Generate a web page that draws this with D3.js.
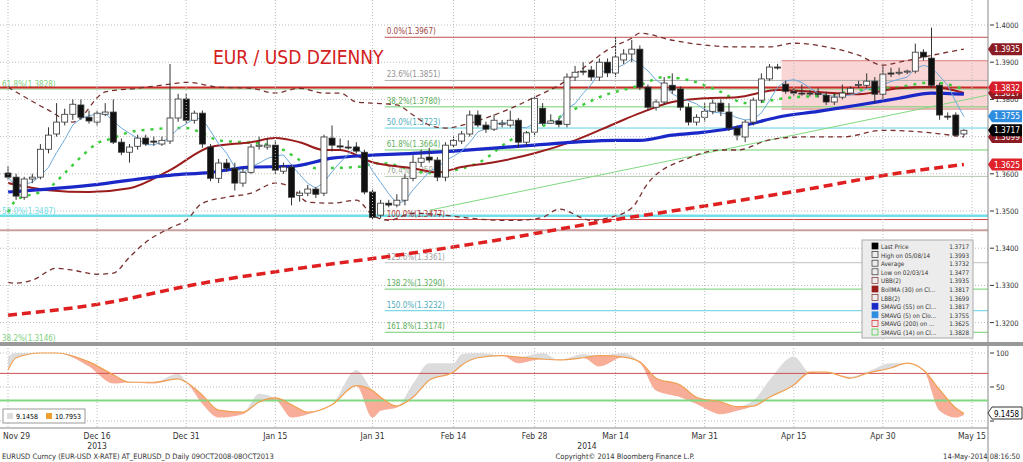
<!DOCTYPE html>
<html><head><meta charset="utf-8">
<script src="https://cdn.jsdelivr.net/npm/d3@7"></script>
<style>body{margin:0;background:#fff}svg{display:block;font-family:"DejaVu Sans Condensed","DejaVu Sans",sans-serif}</style>
</head><body><svg id="c" width="1023" height="462"></svg>
<script>
const opens=[1.3602,1.3591,1.3537,1.3586,1.3591,1.3666,1.3707,1.3739,1.3760,1.3785,
1.3752,1.3739,1.3760,1.3766,1.3685,1.3658,1.3674,1.3696,1.3688,1.3680,
1.3688,1.3750,1.3801,1.3744,1.3763,1.3672,1.3588,1.3629,1.3615,1.3575,
1.3604,1.3674,1.3672,1.3677,1.3607,1.3618,1.3542,1.3548,1.3559,1.3548,
1.3696,1.3675,1.3672,1.3672,1.3658,1.3551,1.3489,1.3521,1.3516,1.3529,
1.3588,1.3631,1.3645,1.3637,1.3591,1.3677,1.3688,1.3707,1.3758,1.3731,
1.3720,1.3733,1.3731,1.3744,1.3685,1.3712,1.3776,1.3736,1.3742,1.3733,
1.3860,1.3876,1.3879,1.3860,1.3900,1.3871,1.3906,1.3922,1.3935,1.3833,
1.3779,1.3793,1.3838,1.3828,1.3779,1.3739,1.3752,1.3768,1.3790,1.3766,
1.3723,1.3699,1.3739,1.3798,1.3855,1.3887,1.3841,1.3822,1.3817,1.3817,
1.3816,1.3811,1.3793,1.3806,1.3817,1.3838,1.3838,1.3849,1.3814,1.3871,
1.3871,1.3874,1.3876,1.3927,1.3911,1.3838,1.3755,1.3758,1.3707];
const closes=[1.3591,1.3540,1.3586,1.3591,1.3666,1.3704,1.3739,1.3760,1.3787,1.3752,
1.3742,1.3763,1.3766,1.3685,1.3658,1.3672,1.3696,1.3680,1.3685,1.3690,
1.3750,1.3801,1.3744,1.3763,1.3680,1.3588,1.3629,1.3615,1.3575,1.3604,
1.3672,1.3677,1.3677,1.3610,1.3618,1.3537,1.3548,1.3559,1.3545,1.3699,
1.3677,1.3672,1.3670,1.3661,1.3551,1.3483,1.3521,1.3516,1.3529,1.3588,
1.3631,1.3642,1.3637,1.3591,1.3677,1.3690,1.3707,1.3758,1.3731,1.3720,
1.3744,1.3736,1.3744,1.3685,1.3710,1.3803,1.3736,1.3742,1.3733,1.3860,
1.3873,1.3874,1.3860,1.3900,1.3871,1.3914,1.3922,1.3935,1.3833,1.3779,
1.3793,1.3844,1.3825,1.3779,1.3739,1.3752,1.3768,1.3790,1.3768,1.3723,
1.3704,1.3739,1.3798,1.3855,1.3887,1.3885,1.3822,1.3817,1.3815,1.3815,
1.3814,1.3793,1.3806,1.3817,1.3830,1.3840,1.3849,1.3814,1.3868,1.3868,
1.3873,1.3876,1.3927,1.3914,1.3838,1.3758,1.3753,1.3704,1.3717];
const highs=[1.3620,1.3600,1.3592,1.3600,1.3680,1.3725,1.3790,1.3775,1.3800,1.3800,
1.3770,1.3770,1.3790,1.3800,1.3695,1.3680,1.3705,1.3705,1.3700,1.3700,
1.3895,1.3815,1.3815,1.3770,1.3770,1.3680,1.3640,1.3640,1.3630,1.3615,
1.3680,1.3700,1.3695,1.3690,1.3630,1.3625,1.3555,1.3570,1.3565,1.3705,
1.3730,1.3695,1.3690,1.3685,1.3665,1.3560,1.3530,1.3530,1.3545,1.3600,
1.3650,1.3665,1.3670,1.3645,1.3685,1.3700,1.3715,1.3770,1.3770,1.3740,
1.3760,1.3745,1.3770,1.3750,1.3715,1.3810,1.3790,1.3760,1.3750,1.3870,
1.3890,1.3900,1.3890,1.3910,1.3910,1.3967,1.3935,1.3960,1.3945,1.3840,
1.3800,1.3860,1.3870,1.3835,1.3790,1.3760,1.3790,1.3800,1.3800,1.3790,
1.3730,1.3745,1.3805,1.3870,1.3895,1.3895,1.3850,1.3830,1.3840,1.3825,
1.3830,1.3820,1.3815,1.3840,1.3835,1.3850,1.3870,1.3860,1.3890,1.3885,
1.3885,1.3880,1.3950,1.3935,1.3993,1.3845,1.3765,1.3765,1.3720];
const lows=[1.3585,1.3530,1.3530,1.3575,1.3585,1.3655,1.3700,1.3730,1.3745,1.3745,
1.3735,1.3730,1.3755,1.3680,1.3650,1.3630,1.3665,1.3675,1.3675,1.3675,
1.3680,1.3740,1.3735,1.3735,1.3670,1.3580,1.3575,1.3605,1.3555,1.3565,
1.3600,1.3665,1.3665,1.3600,1.3600,1.3515,1.3525,1.3540,1.3535,1.3540,
1.3660,1.3665,1.3665,1.3655,1.3545,1.3477,1.3480,1.3510,1.3510,1.3515,
1.3580,1.3620,1.3630,1.3580,1.3580,1.3670,1.3680,1.3700,1.3725,1.3710,
1.3715,1.3725,1.3725,1.3670,1.3675,1.3700,1.3730,1.3735,1.3725,1.3725,
1.3850,1.3865,1.3850,1.3850,1.3860,1.3860,1.3895,1.3900,1.3825,1.3770,
1.3770,1.3785,1.3815,1.3770,1.3730,1.3730,1.3740,1.3760,1.3755,1.3715,
1.3690,1.3685,1.3730,1.3790,1.3850,1.3880,1.3815,1.3810,1.3810,1.3808,
1.3805,1.3785,1.3785,1.3800,1.3815,1.3830,1.3830,1.3790,1.3800,1.3860,
1.3865,1.3868,1.3870,1.3905,1.3830,1.3745,1.3745,1.3700,1.3700];

const sma55Idx=[0,10,20,25,30,35,40,45,50,55,60,65,70,75,78,82,86,90,92,95,100,105,110,114,118];
const sma55=[1.3551,1.3569,1.3596,1.3604,1.3618,1.3620,1.3642,1.3650,1.3655,1.3661,1.3669,1.3677,1.3685,1.3690,1.3690,1.3704,1.3712,1.3725,1.3736,1.3752,1.3768,1.3785,1.3803,1.3817,1.3814];
const bollIdx=[0,5,10,15,20,25,30,33,36,39,41,45,50,53,56,60,65,70,75,78,82,86,90,95,100,105,110,114,118];
const bollMA=[1.3575,1.3556,1.3551,1.3561,1.3610,1.3672,1.3685,1.3696,1.3685,1.3664,1.3664,1.3631,1.3615,1.3604,1.3618,1.3631,1.3655,1.3690,1.3736,1.3763,1.3793,1.3803,1.3806,1.3825,1.3820,1.3814,1.3830,1.3833,1.3817];
const upperIdx=[0,5,8,12,16,20,22,26,30,33,36,39,41,43,45,48,50,52,54,57,60,63,65,68,71,74,77,78,82,86,90,94,97,101,105,108,110,113,116,118];
const upperBB=[1.3833,1.3771,1.3739,1.3820,1.3830,1.3841,1.3846,1.3833,1.3830,1.3817,1.3830,1.3817,1.3817,1.3793,1.3790,1.3785,1.3758,1.3731,1.3723,1.3736,1.3758,1.3785,1.3806,1.3838,1.3884,1.3933,1.3965,1.3978,1.3959,1.3946,1.3941,1.3941,1.3951,1.3941,1.3919,1.3892,1.3900,1.3914,1.3927,1.3935];
const lowerIdx=[0,1,3,6,8,11,13,15,17,20,22,24,27,30,33,35,37,40,43,45,47,50,61,63,66,68,72,74,77,79,84,88,90,94,98,103,108,113,118];
const lowerBB=[1.3308,1.3306,1.3314,1.3346,1.3341,1.3330,1.3333,1.3376,1.3416,1.3454,1.3475,1.3521,1.3537,1.3548,1.3575,1.3564,1.3524,1.3521,1.3529,1.3489,1.3475,1.3494,1.3475,1.3475,1.3483,1.3505,1.3475,1.3481,1.3508,1.3575,1.3642,1.3664,1.3664,1.3691,1.3699,1.3699,1.3717,1.3712,1.3699];
const sma200Idx=[0,11,24,36,48,61,73,85,98,110,118];
const sma200=[1.3220,1.3249,1.3306,1.3346,1.3381,1.3424,1.3470,1.3510,1.3556,1.3602,1.3625];
const sma14Idx=[0,1,4,5,7,9,11,13,15,18,20,22,24,26,29,31,34,36,38,43,46,52,58,62,65,69,73,78,81,84,88,91,97,101,105,110,114,118];
const sma14=[1.3497,1.3529,1.3551,1.3561,1.3602,1.3645,1.3682,1.3696,1.3712,1.3720,1.3723,1.3723,1.3709,1.3690,1.3685,1.3682,1.3664,1.3637,1.3615,1.3618,1.3629,1.3602,1.3629,1.3690,1.3717,1.3763,1.3806,1.3838,1.3860,1.3852,1.3820,1.3790,1.3806,1.3811,1.3825,1.3833,1.3846,1.3828];

const stochIdx=[0,1,4,6,10,13,15,18,21,22,24,26,29,31,33,35,37,40,43,45,46,48,50,52,55,56,58,61,63,66,68,71,73,76,78,80,83,85,88,90,92,94,97,99,101,104,106,109,111,113,115,117,118];
const stochD=[75,93,100,100,87,68,57,57,62,57,38,16,13,28,34,24,13,24,52,45,35,22,35,60,72,82,93,96,94,91,90,93,96,94,87,63,53,35,28,21,22,35,53,72,72,63,70,78,85,75,46,19,11];
const stochK=[95,100,100,100,80,55,58,55,70,58,25,5,10,40,30,5,10,25,75,5,15,20,55,85,85,98,100,96,85,100,90,98,80,100,85,45,35,25,10,15,30,60,95,70,72,65,72,85,85,75,15,5,9];

const dateTicks=[[0,"Nov 29"],[11,"Dec 16"],[22,"Dec 31"],[33,"Jan 15"],[45,"Jan 31"],[55,"Feb 14"],[65,"Feb 28"],[75,"Mar 14"],[86,"Mar 31"],[97,"Apr 15"],[108,"Apr 30"],[119,"May 15"]];
const priceTicks=[1.32,1.33,1.34,1.35,1.36,1.37,1.38,1.39,1.40];
const fibRight=[["0.0%(1.3967)",1.3967,"#c05050"],["23.6%(1.3851)",1.3851,"#b0b0b0"],["38.2%(1.3780)",1.3780,"#70d070"],["50.0%(1.3723)",1.3723,"#60d0e0"],["61.8%(1.3664)",1.3664,"#70d070"],["76.4%(1.3593)",1.3593,"#b8c8b0"],["100.0%(1.3477)",1.3477,"#d04040"],["123.6%(1.3361)",1.3361,"#c0c0c0"],["138.2%(1.3290)",1.3290,"#70d070"],["150.0%(1.3232)",1.3232,"#60d0e0"],["161.8%(1.3174)",1.3174,"#70d070"]];
const fibLeft=[["61.8%(1.3828)",1.3828,"#80d080"],["50.0%(1.3487)",1.3487,"#70e0e8"],["38.2%(1.3146)",1.3146,"#80d080"]];
const priceBoxes=[[1.3935,"1.3935","#8b1c24"],[1.3817,"1.3817","#8b1c24"],[1.3832,"1.3832","#d81e2a"],[1.3755,"1.3755","#2f8de0"],[1.3699,"1.3699","#8b1c24"],[1.3717,"1.3717","#000"],[1.3625,"1.3625","#e0222a"]];
const legendRows=[["Last Price","1.3717"],["High on 05/08/14","1.3993"],["Average","1.3732"],["Low on 02/03/14","1.3477"],["UBB(2)","1.3935"],["BollMA (30) on Cl...","1.3817"],["LBB(2)","1.3699"],["SMAVG (55) on Cl...","1.3817"],["SMAVG (5) on Clo...","1.3755"],["SMAVG (200) on ...","1.3625"],["SMAVG (14) on Cl...","1.3828"]];

const svg=d3.select("#c");
const PR=988;
const x=d3.scaleLinear().domain([0,119]).range([8,972]);
const y=d3.scaleLinear().domain([1.4,1.35]).range([25,211]);
const ys=d3.scaleLinear().domain([0,100]).range([421,353]);
svg.append("clipPath").attr("id","cp").append("rect").attr("x",0).attr("y",0).attr("width",PR).attr("height",343);
const g=svg.append("g").attr("clip-path","url(#cp)");

priceTicks.forEach(p=>g.append("line").attr("x1",0).attr("x2",PR).attr("y1",y(p)).attr("y2",y(p)).attr("stroke","#bbb").attr("stroke-dasharray","1,2"));
dateTicks.forEach(([i])=>{svg.append("line").attr("x1",x(i)).attr("x2",x(i)).attr("y1",0).attr("y2",428).attr("stroke","#bbb").attr("stroke-dasharray","1,2");});

g.append("rect").attr("x",x(95.5)).attr("width",PR-x(95.5)).attr("y",y(1.3904)).attr("height",y(1.3774)-y(1.3904)).attr("fill","#f9d5d5");
[1.3904,1.3774].forEach(p=>g.append("line").attr("x1",x(95.5)).attr("x2",PR).attr("y1",y(p)).attr("y2",y(p)).attr("stroke","#d88080").attr("stroke-width",1));

g.append("line").attr("x1",0).attr("x2",PR).attr("y1",y(1.3448)).attr("y2",y(1.3448)).attr("stroke","#c9a0a0").attr("stroke-width",2);
fibLeft.forEach(([t,v,c],k)=>{g.append("line").attr("x1",0).attr("x2",PR).attr("y1",y(v)).attr("y2",y(v)).attr("stroke",c).attr("stroke-width",k==1?2.5:1.2);
 g.append("text").attr("x",2).attr("y",y(v)-2).attr("font-size",8).attr("fill",c).text(t);});
g.append("line").attr("x1",0).attr("x2",PR).attr("y1",y(1.3832)).attr("y2",y(1.3832)).attr("stroke","#cc2a2a").attr("stroke-width",2);
fibRight.forEach(([t,v,c])=>{const x0=x(46.5);g.append("line").attr("x1",x0).attr("x2",PR).attr("y1",y(v)).attr("y2",y(v)).attr("stroke",c).attr("stroke-width",1);
 g.append("text").attr("x",x0+2).attr("y",y(v)-3).attr("font-size",8).attr("fill",d3.color(c).darker(0.5)).text(t);});
g.append("line").attr("x1",x(52)).attr("y1",y(1.3502)).attr("x2",x(120.8)).attr("y2",y(1.3811)).attr("stroke","#80d880").attr("stroke-width",1);

const ln=(idx,vals)=>d3.line().x((d,i)=>x(idx[i])).y(d=>y(d)).curve(d3.curveMonotoneX)(vals);
g.append("path").attr("d",ln(sma200Idx,sma200)).attr("fill","none").attr("stroke","#e02020").attr("stroke-width",3.5).attr("stroke-dasharray","9,5");
g.append("path").attr("d",ln(upperIdx,upperBB)).attr("fill","none").attr("stroke","#7a3030").attr("stroke-width",1.3).attr("stroke-dasharray","5,4");
g.append("path").attr("d",ln(lowerIdx,lowerBB)).attr("fill","none").attr("stroke","#7a3030").attr("stroke-width",1.3).attr("stroke-dasharray","5,4");
g.append("path").attr("d",ln(sma14Idx,sma14)).attr("fill","none").attr("stroke","#3ccd3c").attr("stroke-width",2.5).attr("stroke-dasharray","3,6");
g.append("path").attr("d",ln(bollIdx,bollMA)).attr("fill","none").attr("stroke","#9b1c1c").attr("stroke-width",2);
g.append("path").attr("d",ln(sma55Idx,sma55)).attr("fill","none").attr("stroke","#1a28c8").attr("stroke-width",3.2);
const sma5=closes.map((c,i)=>d3.mean(closes.slice(Math.max(0,i-4),i+1)));
g.append("path").attr("d",d3.line().x((d,i)=>x(i)).y(d=>y(d))(sma5)).attr("fill","none").attr("stroke","#6fa8d8").attr("stroke-width",1);

closes.forEach((c,i)=>{const o=opens[i],cx=x(i);
 g.append("line").attr("x1",cx).attr("x2",cx).attr("y1",y(highs[i])).attr("y2",y(lows[i])).attr("stroke","#333").attr("stroke-width",1);
 const t=y(Math.max(o,c)),b=y(Math.min(o,c));
 g.append("rect").attr("x",cx-3).attr("width",6).attr("y",t).attr("height",Math.max(1,b-t)).attr("fill",c<o?"#111":"#fff").attr("stroke","#333").attr("stroke-width",0.8);});

svg.append("text").attr("x",213).attr("y",64).attr("font-family","DejaVu Sans Condensed, sans-serif").attr("font-size",19).attr("fill","#d42020").text("EUR / USD DZIENNY");

svg.append("line").attr("x1",PR).attr("x2",PR).attr("y1",0).attr("y2",462).attr("stroke","#888");
priceTicks.forEach(p=>{svg.append("line").attr("x1",PR+2).attr("x2",PR+6).attr("y1",y(p)).attr("y2",y(p)).attr("stroke","#333");
 svg.append("text").attr("x",PR+7).attr("y",y(p)+3).attr("font-size",7.5).attr("fill","#333").text(p.toFixed(4));});
priceBoxes.forEach(([v,t,c])=>{const yy=y(v);
 svg.append("path").attr("d",`M${PR},${yy} L${PR+4},${yy-6} H1022 V${yy+6} H${PR+4} Z`).attr("fill",c);
 svg.append("text").attr("x",PR+6).attr("y",yy+3.2).attr("font-size",8.3).attr("fill","#fff").text(t);});

const L=svg.append("g").attr("transform","translate(862,240)");
L.append("rect").attr("width",111).attr("height",98).attr("fill","#ececec").attr("stroke","#aaa");
const legCols=["#000","#333","#333","#333","#7a3030","#9b1c1c","#7a3030","#1a28c8","#2f8de0","#e02020","#3ccd3c"];
legendRows.forEach(([a,b],k)=>{const yy=9+k*8.6;
 L.append("rect").attr("x",10).attr("y",yy-6).attr("width",6).attr("height",6).attr("fill",k==0||k==5||k==7||k==8?legCols[k]:"none").attr("stroke",legCols[k]).attr("stroke-width",0.7);
 L.append("text").attr("x",19).attr("y",yy).attr("font-size",6.3).attr("fill","#333").text(a);
 L.append("text").attr("x",107).attr("y",yy).attr("text-anchor","end").attr("font-size",6.3).attr("fill","#333").text(b);});

svg.append("rect").attr("x",0).attr("y",342).attr("width",1023).attr("height",4).attr("fill","#999");
svg.append("clipPath").attr("id","cp2").append("rect").attr("x",0).attr("y",347).attr("width",PR).attr("height",81);
const g2=svg.append("g").attr("clip-path","url(#cp2)");
[100,50,0].forEach(v=>g2.append("line").attr("x1",0).attr("x2",PR).attr("y1",ys(v)).attr("y2",ys(v)).attr("stroke","#bbb").attr("stroke-dasharray","1,2"));
const ax=(d,i)=>x(stochIdx[i]);
g2.append("path").attr("d",d3.area().x(ax).y0((d,i)=>ys(stochD[i])).y1((d,i)=>ys(Math.max(stochD[i],stochK[i]))).curve(d3.curveMonotoneX)(stochD)).attr("fill","#dcdcdc");
g2.append("path").attr("d",d3.area().x(ax).y0((d,i)=>ys(stochD[i])).y1((d,i)=>ys(Math.min(stochD[i],stochK[i]))).curve(d3.curveMonotoneX)(stochD)).attr("fill","#f7ad98");
g2.append("line").attr("x1",0).attr("x2",PR).attr("y1",ys(70)).attr("y2",ys(70)).attr("stroke","#d05050").attr("stroke-width",1);
g2.append("line").attr("x1",0).attr("x2",PR).attr("y1",ys(30)).attr("y2",ys(30)).attr("stroke","#80d880").attr("stroke-width",2);
g2.append("path").attr("d",d3.line().x(ax).y(d=>ys(d)).curve(d3.curveMonotoneX)(stochD)).attr("fill","none").attr("stroke","#f0a050").attr("stroke-width",1.2);
[100,50,0].forEach(v=>{svg.append("line").attr("x1",PR+2).attr("x2",PR+6).attr("y1",ys(v)).attr("y2",ys(v)).attr("stroke","#333");
 if(v>0)svg.append("text").attr("x",PR+8).attr("y",ys(v)+3).attr("font-size",7.5).attr("fill","#333").text(v);});
svg.append("path").attr("d",`M${PR},413 L${PR+4},407 H1022 V419 H${PR+4} Z`).attr("fill","#fff").attr("stroke","#333");
svg.append("text").attr("x",PR+6).attr("y",416.5).attr("font-size",8).text("9.1458");
const lg=svg.append("g").attr("transform","translate(3,409)");
lg.append("rect").attr("width",82).attr("height",14).attr("fill","#fff").attr("stroke","#999");
lg.append("rect").attr("x",4).attr("y",4).attr("width",6).attr("height",6).attr("fill","#ddd");
lg.append("text").attr("x",13).attr("y",10).attr("font-size",7).text("9.1458");
lg.append("rect").attr("x",43).attr("y",4).attr("width",6).attr("height",6).attr("fill","#f0a030");
lg.append("text").attr("x",52).attr("y",10).attr("font-size",7).text("10.7953");
svg.append("line").attr("x1",0).attr("x2",PR).attr("y1",428).attr("y2",428).attr("stroke","#888");

dateTicks.forEach(([i,t],k)=>svg.append("text").attr("x",k==0?3:x(i)).attr("y",439).attr("text-anchor",k==0?"start":"middle").attr("font-size",8.5).attr("fill","#333").text(t));
svg.append("text").attr("x",x(11)).attr("y",449).attr("text-anchor","middle").attr("font-size",8.5).attr("fill","#333").text("2013");
svg.append("text").attr("x",587).attr("y",449).attr("text-anchor","middle").attr("font-size",8.5).attr("fill","#333").text("2014");
svg.append("text").attr("x",2).attr("y",459).attr("font-size",7.5).attr("fill","#333").text("EURUSD Curncy (EUR-USD X-RATE) AT_EURUSD_D  Daily 09OCT2008-08OCT2013");
svg.append("text").attr("x",625).attr("y",459).attr("text-anchor","middle").attr("font-size",7.5).attr("fill","#333").text("Copyright© 2014 Bloomberg Finance L.P.");
svg.append("text").attr("x",1020).attr("y",459).attr("text-anchor","end").attr("font-size",7.5).attr("fill","#333").text("14-May-2014 08:16:50");
</script></body></html>
